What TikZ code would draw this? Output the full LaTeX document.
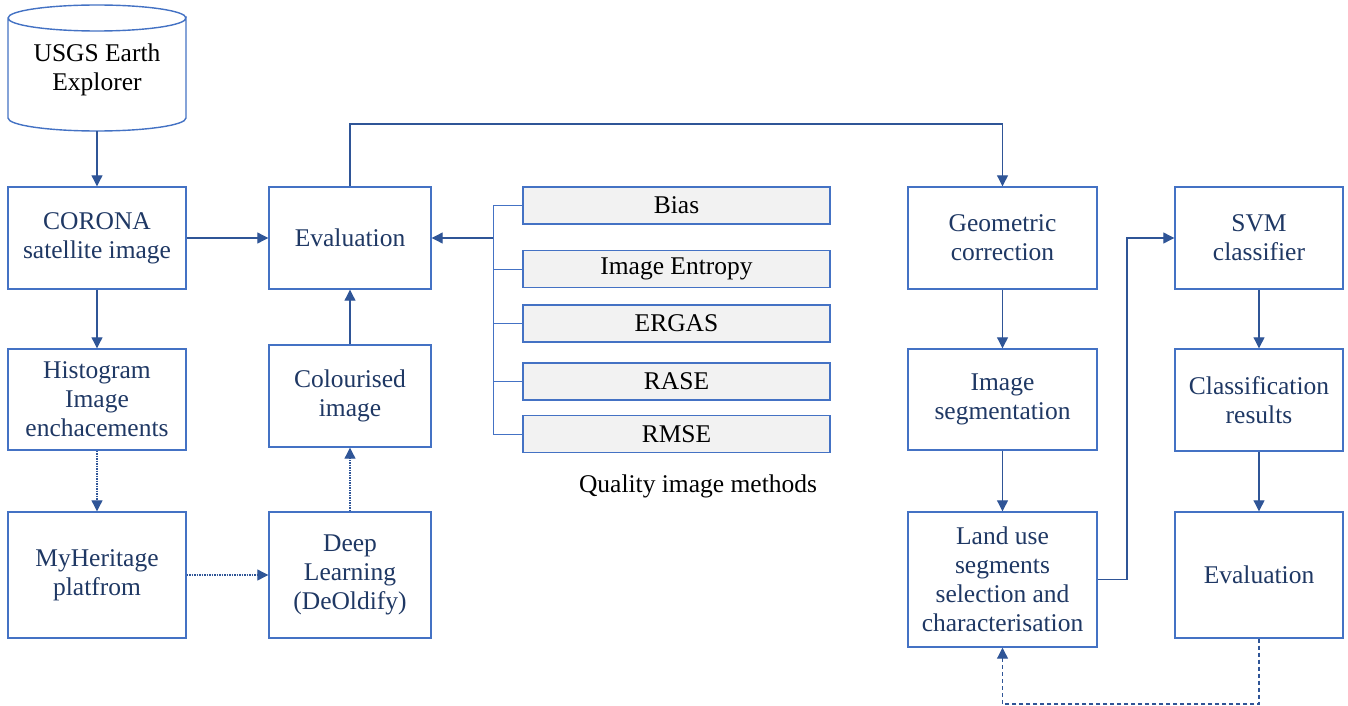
\documentclass[tikz,border=0pt]{standalone}
\usepackage{fontspec}
\setmainfont{Liberation Serif}
\usetikzlibrary{arrows.meta}
\definecolor{bord}{HTML}{4472C4}
\definecolor{arr}{HTML}{2F5597}
\definecolor{txt}{HTML}{1F3864}
\definecolor{gfill}{HTML}{F2F2F2}
\begin{document}
\begin{tikzpicture}[x=1pt,y=-1pt,
  box/.style={draw=bord, line width=1.4pt, text=txt, align=center,
    font=\fontsize{25.5}{29}\selectfont, inner sep=0pt},
  gbox/.style={draw=bord, fill=gfill, line width=1.4pt, text=black, align=center,
    font=\fontsize{25.5}{29}\selectfont, inner sep=0pt,
    minimum width=307pt, minimum height=37pt},
  link/.style={draw=arr, line width=1.1pt, -{Triangle[length=11pt,width=11pt]}},
  dotlink/.style={link, dash pattern=on 1.5pt off 1pt},
  dashlink/.style={link, dash pattern=on 4pt off 3pt},
  branch/.style={draw=bord, line width=1pt},
]
\useasboundingbox (0,0) rectangle (1348,706);
\fill[white] (0,0) rectangle (1348,706);

% cylinder
\draw[draw=bord, line width=1.4pt, fill=white]
  (8,18) -- (8,118) arc[start angle=180, end angle=360, x radius=89pt, y radius=13pt]
  -- (186,18) arc[start angle=0, end angle=-180, x radius=89pt, y radius=13pt];
\draw[draw=bord, line width=1.4pt]
  (8,18) arc[start angle=180, end angle=0, x radius=89pt, y radius=13pt];
\node[align=center, text=black, font=\fontsize{25.5}{29}\selectfont] (usgs) at (97,70) {USGS Earth\\Explorer};
\coordinate (usgsb) at (97,131);

% column 1
\node[box, minimum width=178pt, minimum height=102pt] (corona) at (97,238) {CORONA\\satellite image};
\node[box, minimum width=178pt, minimum height=101pt] (hist) at (97,399.5) {Histogram\\Image\\enchacements};
\node[box, minimum width=178pt, minimum height=126pt] (myh) at (97,575) {MyHeritage\\platfrom};

% column 2
\node[box, minimum width=162pt, minimum height=102pt] (eval1) at (350,238) {Evaluation};
\node[box, minimum width=162pt, minimum height=102pt] (colour) at (350,396) {Colourised\\image};
\node[box, minimum width=162pt, minimum height=126pt] (deep) at (350,575) {Deep\\Learning\\(DeOldify)};

% quality methods
\node[gbox] (bias) at (676.5,205.5) {Bias};
\node[gbox] (entropy) at (676.5,269) {Image Entropy};
\node[gbox] (ergas) at (676.5,323.5) {ERGAS};
\node[gbox] (rase) at (676.5,381.5) {RASE};
\node[gbox] (rmse) at (676.5,434) {RMSE};
\node[text=black, font=\fontsize{25.5}{29}\selectfont] (qim) at (698,486) {Quality image methods};

% column 3
\node[box, minimum width=189pt, minimum height=102pt] (geo) at (1002.5,238) {Geometric\\correction};
\node[box, minimum width=189pt, minimum height=101pt] (seg) at (1002.5,399.5) {Image\\segmentation};
\node[box, minimum width=189pt, minimum height=135pt] (land) at (1002.5,579.5) {Land use\\segments\\selection and\\characterisation};

% column 4
\node[box, minimum width=168pt, minimum height=102pt] (svm) at (1259,238) {SVM\\classifier};
\node[box, minimum width=168pt, minimum height=102pt] (class) at (1259,400) {Classification\\results};
\node[box, minimum width=168pt, minimum height=126pt] (eval2) at (1259,575) {Evaluation};

% helper coordinates
\coordinate (br) at (493,238);
\coordinate (topy) at (0,124);
\coordinate (jx) at (1127,0);
\coordinate (boty) at (0,704);

% connectors
\draw[link] (usgsb) -- (corona.north);
\draw[link] (corona.south) -- (hist.north);
\draw[dotlink] (hist.south) -- (myh.north);
\draw[dotlink] (myh.east) -- (deep.west);
\draw[dotlink] (deep.north) -- (colour.south);
\draw[link] (colour.north) -- (eval1.south);
\draw[link] (corona.east) -- (eval1.west);

\draw[branch] (bias.west) -- (bias.west -| br) -- (rmse.west -| br) -- (rmse.west);
\draw[branch] (entropy.west) -- (entropy.west -| br);
\draw[branch] (ergas.west) -- (ergas.west -| br);
\draw[branch] (rase.west) -- (rase.west -| br);
\draw[link] (br) -- (eval1.east);

\draw[link] (eval1.north) -- (eval1.north |- topy) -| (geo.north);
\draw[link] (geo.south) -- (seg.north);
\draw[link] (seg.south) -- (land.north);
\draw[link] (land.east) -| (jx |- svm.west) -- (svm.west);
\draw[link] (svm.south) -- (class.north);
\draw[link] (class.south) -- (eval2.north);
\draw[dashlink] (eval2.south) -- (eval2.south |- boty) -| (land.south);
\end{tikzpicture}
\end{document}
